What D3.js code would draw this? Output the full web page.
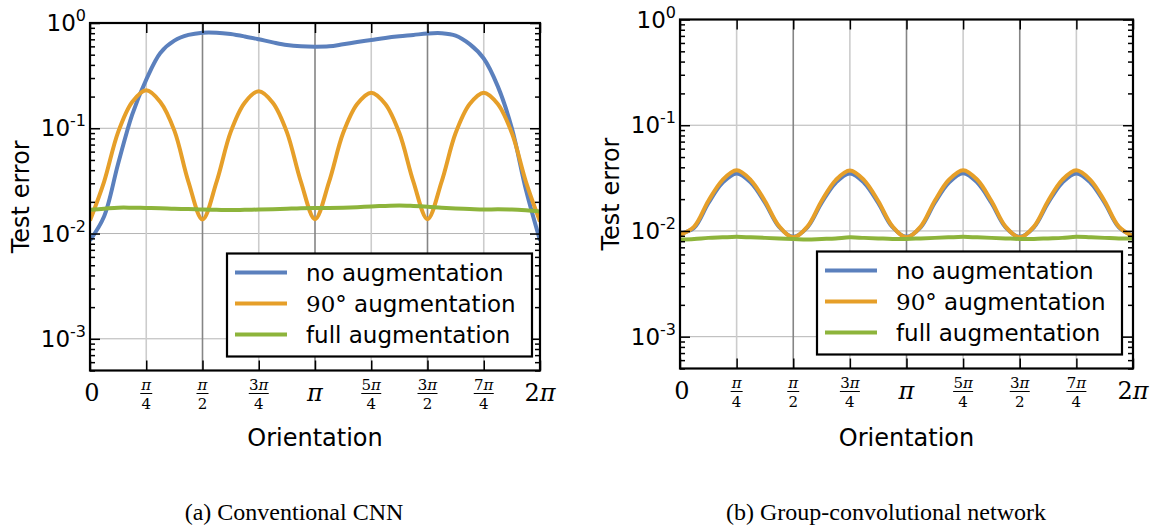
<!DOCTYPE html>
<html>
<head>
<meta charset="utf-8">
<script src="https://cdn.jsdelivr.net/npm/d3@7/dist/d3.min.js"></script>
<style>
  body { margin: 0; background: #fff; }
  svg text { fill: #000; }
</style>
</head>
<body>
<svg id="chart" width="1153" height="528"></svg>
<script>
// orientation grid: 33 samples from 0 to 2π (step π/16)
const xTickLabels = ["0", "π/4", "π/2", "3π/4", "π", "5π/4", "3π/2", "7π/4", "2π"];
const yDecades = [1e-3, 1e-2, 1e-1, 1];
const seriesNames = ["no augmentation", "90° augmentation", "full augmentation"];
const seriesColors = ["#5b80bd", "#e69f29", "#8db43b"];

// (a) conventional CNN
const cnnNoAug = [0.0086, 0.0145, 0.046, 0.135, 0.29, 0.52, 0.68, 0.77, 0.81, 0.81, 0.785, 0.745, 0.70, 0.655, 0.618, 0.60,
  0.595, 0.60, 0.628, 0.66, 0.69, 0.722, 0.748, 0.77, 0.795, 0.80, 0.76, 0.63, 0.46, 0.25, 0.10, 0.026, 0.0086];
const cnnRot90 = [0.0133, 0.031, 0.092, 0.178, 0.23, 0.178, 0.095, 0.031, 0.0136, 0.031, 0.092, 0.175, 0.225, 0.175, 0.092, 0.031,
  0.0137, 0.031, 0.09, 0.17, 0.218, 0.17, 0.09, 0.031, 0.0137, 0.031, 0.09, 0.17, 0.218, 0.17, 0.09, 0.031, 0.013];
const cnnFull = [0.0168, 0.0172, 0.0176, 0.0176, 0.0175, 0.0174, 0.0172, 0.0171, 0.0169, 0.0168, 0.0167, 0.0168, 0.0169, 0.0170, 0.0172, 0.0174,
  0.0175, 0.0175, 0.0176, 0.0178, 0.0181, 0.0183, 0.0185, 0.0183, 0.0180, 0.0176, 0.0173, 0.0171, 0.0169, 0.0170, 0.0169, 0.0166, 0.0162];

// (b) group-convolutional network
const gcnnNoAug = [0.0094, 0.0107, 0.0183, 0.0285, 0.0350, 0.0287, 0.0185, 0.0109, 0.0088, 0.0108, 0.0184, 0.0286, 0.0350, 0.0286, 0.0184, 0.0109,
  0.0088, 0.0108, 0.0185, 0.0287, 0.0352, 0.0287, 0.0184, 0.0108, 0.0088, 0.0108, 0.0184, 0.0286, 0.0350, 0.0286, 0.0184, 0.0108, 0.0090];
const gcnnRot90 = [0.0092, 0.0110, 0.0192, 0.0303, 0.0375, 0.0303, 0.0192, 0.0111, 0.0087, 0.0110, 0.0192, 0.0303, 0.0373, 0.0303, 0.0192, 0.0111,
  0.0087, 0.0110, 0.0193, 0.0305, 0.0376, 0.0305, 0.0192, 0.0110, 0.0087, 0.0110, 0.0192, 0.0304, 0.0375, 0.0303, 0.0191, 0.0110, 0.0089];
const gcnnFull = [0.0083, 0.0084, 0.0086, 0.0087, 0.0088, 0.0087, 0.0086, 0.0085, 0.0084, 0.0083, 0.0084, 0.0085, 0.0087, 0.0086, 0.0085, 0.0084,
  0.0084, 0.0085, 0.0086, 0.0087, 0.0088, 0.0087, 0.0086, 0.0085, 0.0084, 0.0084, 0.0085, 0.0086, 0.0088, 0.0087, 0.0086, 0.0085, 0.0085];

const svg = d3.select('#chart');
const sans = "'DejaVu Sans', sans-serif";
const serif = "'DejaVu Serif', 'Liberation Serif', serif";

// digits upright, π italic (mathtext look)
function mathText(sel, str) {
    str.split(/(π)/).filter(s => s.length).forEach(part => {
        sel.append('tspan').style('font-style', part === 'π' ? 'italic' : 'normal').text(part);
    });
}

function drawPanel(opts, series, caption, id) {
    const x = d3.scaleLinear().domain([0, 2 * Math.PI]).range([opts.left, opts.right]);
    const y = d3.scaleLog().domain([5e-4, 1]).range([opts.bottom, opts.top]);
    const g = svg.append('g');
    const step = 2 * Math.PI / 32;
    const xTicks = xTickLabels.map((d, i) => i * Math.PI / 4);

    // grid
    g.selectAll('.hgrid').data(yDecades.slice(0, 3)).enter().append('line')
        .attr('x1', opts.left).attr('x2', opts.right)
        .attr('y1', d => y(d)).attr('y2', d => y(d))
        .attr('stroke', '#b4b4b4').attr('stroke-width', 1);
    g.selectAll('.vgrid').data(xTicks.slice(1, -1)).enter().append('line')
        .attr('x1', d => x(d)).attr('x2', d => x(d))
        .attr('y1', opts.top).attr('y2', opts.bottom)
        .attr('stroke', (d, i) => i % 2 === 1 ? '#858585' : '#cccccc')
        .attr('stroke-width', 1.6);

    // lines
    g.append('clipPath').attr('id', 'clip' + id).append('rect')
        .attr('x', opts.left).attr('y', opts.top)
        .attr('width', opts.right - opts.left).attr('height', opts.bottom - opts.top);
    const line = d3.line()
        .x((d, i) => x(i * step))
        .y(d => y(d))
        .curve(d3.curveCatmullRom.alpha(0.5));
    series.forEach((s, i) => {
        g.append('path').datum(s)
            .attr('clip-path', `url(#clip${id})`)
            .attr('d', line)
            .attr('fill', 'none')
            .attr('stroke', seriesColors[i])
            .attr('stroke-width', 4)
            .attr('stroke-linejoin', 'round');
    });

    // ticks (inward, all four sides)
    const minors = [];
    for (let e = -4; e < 0; e++) {
        for (let m = 2; m <= 9; m++) {
            const v = m * Math.pow(10, e);
            if (v >= 5e-4 && v < 1) minors.push(v);
        }
    }
    const styleAxis = sel => {
        sel.select('.domain').remove();
        sel.selectAll('.tick line').attr('stroke', '#000').attr('stroke-width', 1.5);
        sel.selectAll('.tick text').remove();
    };
    g.append('g').attr('transform', `translate(0,${opts.bottom})`)
        .call(d3.axisBottom(x).tickValues(xTicks).tickSize(-10)).call(styleAxis);
    g.append('g').attr('transform', `translate(0,${opts.top})`)
        .call(d3.axisTop(x).tickValues(xTicks).tickSize(-10)).call(styleAxis);
    g.append('g').attr('transform', `translate(${opts.left},0)`)
        .call(d3.axisLeft(y).tickValues(yDecades).tickSize(-10)).call(styleAxis);
    g.append('g').attr('transform', `translate(${opts.left},0)`)
        .call(d3.axisLeft(y).tickValues(minors).tickSize(-5)).call(styleAxis);
    g.append('g').attr('transform', `translate(${opts.right},0)`)
        .call(d3.axisRight(y).tickValues(yDecades).tickSize(-10)).call(styleAxis);
    g.append('g').attr('transform', `translate(${opts.right},0)`)
        .call(d3.axisRight(y).tickValues(minors).tickSize(-5)).call(styleAxis);

    // frame
    g.append('rect')
        .attr('x', opts.left).attr('y', opts.top)
        .attr('width', opts.right - opts.left).attr('height', opts.bottom - opts.top)
        .attr('fill', 'none').attr('stroke', '#000').attr('stroke-width', 2.2);

    // y tick labels
    yDecades.forEach(d => {
        const t = g.append('text')
            .attr('x', opts.left - 4).attr('y', y(d) + 8)
            .attr('text-anchor', 'end')
            .style('font-family', sans).style('font-size', '23px');
        t.append('tspan').text('10');
        t.append('tspan').attr('dy', -10).style('font-size', '16px')
            .text(String(Math.round(Math.log10(d))));
    });

    // x tick labels (math style)
    xTickLabels.forEach((lab, i) => {
        const cx = x(xTicks[i]);
        if (lab.includes('/')) {
            const [num, den] = lab.split('/');
            const tn = g.append('text').attr('x', cx).attr('y', opts.bottom + 19).attr('text-anchor', 'middle')
                .style('font-family', serif).style('font-size', '15px');
            mathText(tn, num);
            g.append('line')
                .attr('x1', cx - (num.length > 1 ? 10 : 6)).attr('x2', cx + (num.length > 1 ? 10 : 6))
                .attr('y1', opts.bottom + 23).attr('y2', opts.bottom + 23)
                .attr('stroke', '#000').attr('stroke-width', 1);
            g.append('text').attr('x', cx).attr('y', opts.bottom + 38).attr('text-anchor', 'middle')
                .style('font-family', serif).style('font-size', '15px')
                .text(den);
        } else {
            const t = g.append('text').attr('x', cx + (i === 0 ? 2 : 0)).attr('y', opts.bottom + 30).attr('text-anchor', 'middle')
                .style('font-family', serif).style('font-size', '24px');
            mathText(t, lab);
        }
    });

    // axis titles
    g.append('text')
        .attr('x', (opts.left + opts.right) / 2).attr('y', 446)
        .attr('text-anchor', 'middle')
        .style('font-family', sans).style('font-size', '24px')
        .text('Orientation');
    g.append('text')
        .attr('transform', `translate(${opts.left - 61},${(opts.top + opts.bottom) / 2}) rotate(-90)`)
        .attr('text-anchor', 'middle')
        .style('font-family', sans).style('font-size', '24px')
        .text('Test error');

    // legend
    const lx = opts.left + 137, ly = opts.bottom - 117;
    const lg = g.append('g').attr('transform', `translate(${lx},${ly})`);
    lg.append('rect').attr('width', 305).attr('height', 103)
        .attr('fill', '#fff').attr('stroke', '#000').attr('stroke-width', 2.2);
    seriesNames.forEach((name, i) => {
        const yy = 19 + i * 31;
        lg.append('line').attr('x1', 8).attr('x2', 60).attr('y1', yy).attr('y2', yy)
            .attr('stroke', seriesColors[i]).attr('stroke-width', 4);
        const t = lg.append('text').attr('x', 79).attr('y', yy + 8)
            .style('font-family', sans).style('font-size', '23px');
        if (name.startsWith('90°')) {
            t.append('tspan').style('font-family', serif).text('90°');
            t.append('tspan').text(name.slice(3));
        } else {
            t.text(name);
        }
    });

    // caption
    svg.append('text')
        .attr('x', opts.captionX).attr('y', 520)
        .attr('text-anchor', 'middle')
        .style('font-family', "'Liberation Serif', serif").style('font-size', '24px')
        .text(caption);
}

drawPanel({ left: 90, right: 540, top: 23, bottom: 370.5, captionX: 294 },
    [cnnNoAug, cnnRot90, cnnFull], '(a) Conventional CNN', 'a');
drawPanel({ left: 680, right: 1133, top: 19.5, bottom: 368.5, captionX: 886 },
    [gcnnNoAug, gcnnRot90, gcnnFull], '(b) Group-convolutional network', 'b');
</script>
</body>
</html>
